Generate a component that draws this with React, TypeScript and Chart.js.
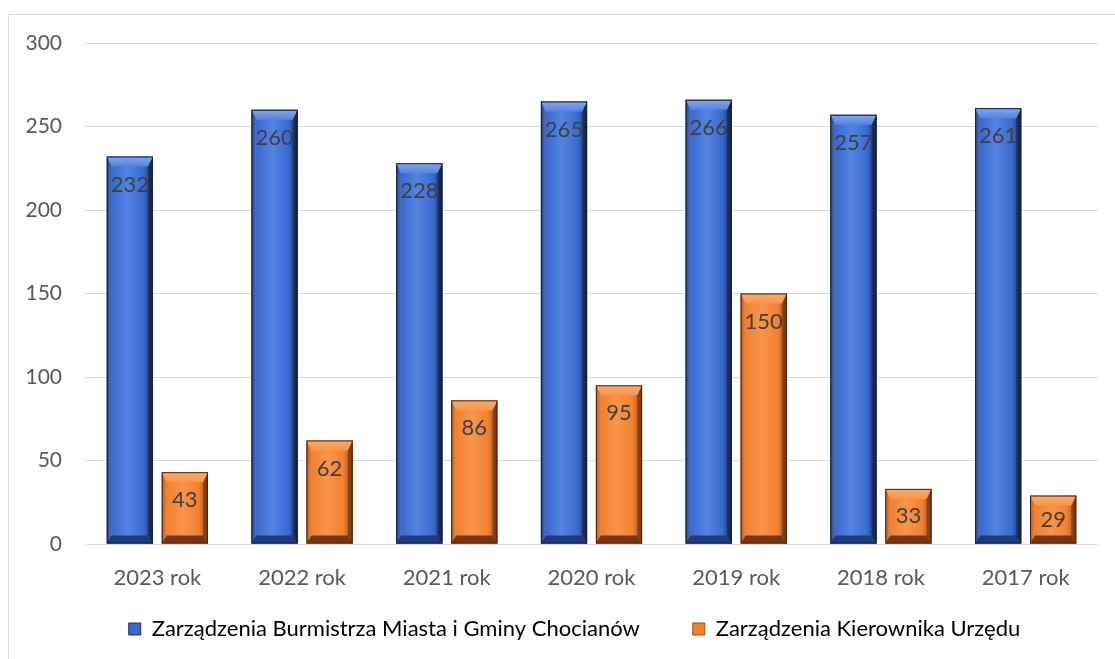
import React, { useEffect, useRef } from "react";
import { Chart, registerables } from "chart.js";

Chart.register(...registerables);

const categories = ["2023 rok", "2022 rok", "2021 rok", "2020 rok", "2019 rok", "2018 rok", "2017 rok"];
const burmistrzValues = [232, 260, 228, 265, 266, 257, 261];
const kierownikValues = [43, 62, 86, 95, 150, 33, 29];
const seriesNames = ["Zarządzenia Burmistrza Miasta i Gminy Chocianów", "Zarządzenia Kierownika Urzędu"];
const yMin = 0;
const yMax = 300;
const yStep = 50;

const FONT = "Lato, 'Open Sans', sans-serif";
const LEGEND_PAD = 53;
const LEGEND_H = 67;
const LEGEND_SHIFT_Y = -27;
const LEGEND_SHIFT_X = 21;

const palettes = [
  { edge: "#1b2d5c", mid: "#3a6ad0", light: "#5384e0", top: "#86a6ec", bottom: "#1f3b80", outline: "#14213f" },
  { edge: "#a34d15", mid: "#f2812f", light: "#f7954a", top: "#f8ad74", bottom: "#7a3510", outline: "#4e230a" },
];

const layoutPlugin = {
  id: "legendLayout",
  beforeLayout(chart: any) {
    const lg = chart.legend;
    if (lg && !lg.__fitPatched) {
      const orig = lg.fit;
      lg.fit = function () {
        orig.call(this);
        this.height = LEGEND_H;
      };
      lg.__fitPatched = true;
    }
  },
  afterLayout(chart: any) {
    const lg = chart.legend;
    if (lg) {
      lg.top += LEGEND_SHIFT_Y;
      lg.left += LEGEND_SHIFT_X;
      lg.right += LEGEND_SHIFT_X;
    }
  },
};

const bevelPlugin = {
  id: "bevel",
  afterDatasetsDraw(chart: any) {
    const ctx = chart.ctx;
    chart.data.datasets.forEach((ds: any, di: number) => {
      const meta = chart.getDatasetMeta(di);
      const p = palettes[di];
      meta.data.forEach((bar: any, i: number) => {
        const props = bar.getProps(["x", "y", "base", "width"], true);
        const l = props.x - props.width / 2;
        const r = props.x + props.width / 2;
        const t = props.y;
        const b = props.base;
        const h = b - t;
        const w = r - l;
        const s = Math.min(5, w / 4);
        const tb = Math.min(10, h / 3);
        const bb = Math.min(8, h / 3);
        ctx.save();
        const g = ctx.createLinearGradient(l, 0, r, 0);
        g.addColorStop(0, p.edge);
        g.addColorStop(0.12, p.mid);
        g.addColorStop(0.45, p.light);
        g.addColorStop(0.8, p.mid);
        g.addColorStop(1, p.edge);
        ctx.fillStyle = g;
        ctx.fillRect(l, t, w, h);
        ctx.fillStyle = "rgba(255,255,255,0.10)";
        ctx.beginPath();
        ctx.moveTo(l, t);
        ctx.lineTo(l + s, t + tb);
        ctx.lineTo(l + s, b - bb);
        ctx.lineTo(l, b);
        ctx.closePath();
        ctx.fill();
        ctx.fillStyle = "rgba(0,0,0,0.30)";
        ctx.beginPath();
        ctx.moveTo(r, t);
        ctx.lineTo(r - s, t + tb);
        ctx.lineTo(r - s, b - bb);
        ctx.lineTo(r, b);
        ctx.closePath();
        ctx.fill();
        const tg = ctx.createLinearGradient(0, t, 0, t + tb);
        tg.addColorStop(0, p.top);
        tg.addColorStop(1, p.light);
        ctx.fillStyle = tg;
        ctx.beginPath();
        ctx.moveTo(l, t);
        ctx.lineTo(r, t);
        ctx.lineTo(r - s, t + tb);
        ctx.lineTo(l + s, t + tb);
        ctx.closePath();
        ctx.fill();
        ctx.fillStyle = p.bottom;
        ctx.beginPath();
        ctx.moveTo(l, b);
        ctx.lineTo(r, b);
        ctx.lineTo(r - s, b - bb);
        ctx.lineTo(l + s, b - bb);
        ctx.closePath();
        ctx.fill();
        ctx.strokeStyle = p.outline;
        ctx.lineWidth = 1;
        ctx.strokeRect(l + 0.5, t + 0.5, w - 1, h - 1);
        ctx.restore();

        const v = ds.data[i];
        ctx.save();
        ctx.font = `22px ${FONT}`;
        ctx.fillStyle = "#404040";
        ctx.textAlign = "center";
        ctx.textBaseline = "middle";
        ctx.fillText(String(v), props.x, t + Math.min(28, h / 2));
        ctx.restore();
      });
    });
  },
};

export default function App() {
  const canvasRef = useRef<HTMLCanvasElement>(null);

  useEffect(() => {
    if (!canvasRef.current) return;
    const chart = new Chart(canvasRef.current, {
      type: "bar",
      data: {
        labels: categories,
        datasets: [
          {
            label: seriesNames[0],
            data: burmistrzValues,
            backgroundColor: palettes[0].mid,
            borderWidth: 0,
            categoryPercentage: 0.76,
            barPercentage: 0.84,
          },
          {
            label: seriesNames[1],
            data: kierownikValues,
            backgroundColor: palettes[1].mid,
            borderWidth: 0,
            categoryPercentage: 0.76,
            barPercentage: 0.84,
          },
        ],
      },
      options: {
        animation: false,
        responsive: false,
        maintainAspectRatio: false,
        layout: { padding: { left: 0, right: 17, top: 28, bottom: 0 } },
        plugins: {
          tooltip: { enabled: false },
          legend: {
            position: "bottom",
            labels: {
              boxWidth: 12,
              boxHeight: 12,
              padding: LEGEND_PAD,
              color: "#595959",
              font: { family: FONT, size: 22 },
              generateLabels: () =>
                seriesNames.map((name, i) => ({
                  text: name,
                  fillStyle: palettes[i].mid,
                  strokeStyle: palettes[i].edge,
                  lineWidth: 1,
                  hidden: false,
                  datasetIndex: i,
                })),
            },
          },
        },
        scales: {
          x: {
            grid: { display: false, drawTicks: false },
            border: { display: true, color: "#d9d9d9" },
            ticks: { color: "#595959", font: { family: FONT, size: 22 }, padding: 21 },
            afterFit: (scale: any) => {
              scale.height = 48;
            },
          },
          y: {
            min: yMin,
            max: yMax,
            grid: { color: "#d9d9d9", drawTicks: false },
            border: { display: false },
            ticks: {
              stepSize: yStep,
              color: "#595959",
              font: { family: FONT, size: 21 },
              padding: 23,
            },
            afterFit: (scale: any) => {
              scale.width = 76;
              scale.paddingTop = 0;
              scale.paddingBottom = 0;
            },
          },
        },
      },
      plugins: [layoutPlugin, bevelPlugin],
    });
    return () => chart.destroy();
  }, []);

  return (
    <div
      style={{
        position: "absolute",
        left: 8,
        top: 14,
        width: 1107,
        height: 645,
        borderLeft: "1px solid #d9d9d9",
        borderTop: "1px solid #d9d9d9",
        background: "#ffffff",
        boxSizing: "border-box",
      }}
    >
      <canvas ref={canvasRef} width={1106} height={644} style={{ display: "block" }} />
    </div>
  );
}
